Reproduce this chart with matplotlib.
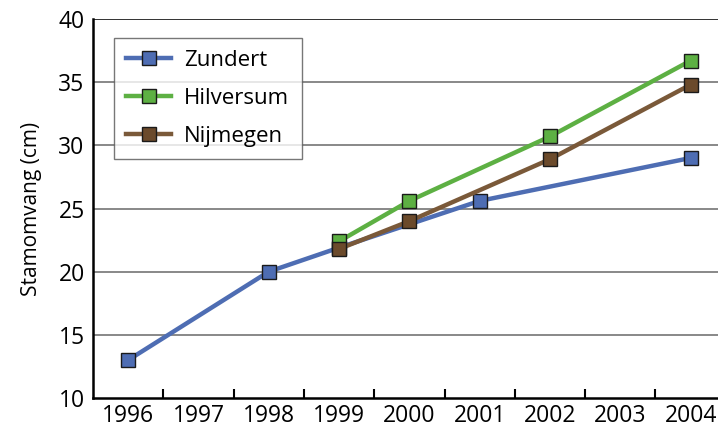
import matplotlib
matplotlib.use('Agg')
import matplotlib.pyplot as plt
import numpy as np

plt.rcParams['font.family'] = ['Open Sans', 'DejaVu Sans']

years = ['1996', '1997', '1998', '1999', '2000', '2001', '2002', '2003', '2004']

# stem girth (cm) per location; None where no measurement
zundert = [13.0, None, 20.0, 21.9, None, 25.6, None, None, 29.0]
hilversum = [None, None, None, 22.4, 25.6, None, 30.7, None, 36.7]
nijmegen = [None, None, None, 21.8, 24.0, None, 28.9, None, 34.8]

series = [
    ('Zundert', zundert, '#4E6DB3', '#4E6DB3'),
    ('Hilversum', hilversum, '#5DB043', '#5DB043'),
    ('Nijmegen', nijmegen, '#7A5939', '#6B4A2B'),
]

fig = plt.figure(figsize=(7.18, 4.30), dpi=100)
ax = fig.add_axes([93/718, 32/430, 625/718, 379/430])

for name, vals, col, mcol in series:
    xs = [i for i, v in enumerate(vals) if v is not None]
    ys = [v for v in vals if v is not None]
    ax.plot(xs, ys, color=col, lw=3.2, marker='s', markersize=9.5,
            markerfacecolor=mcol, markeredgecolor='#1a1a1a', markeredgewidth=1.0,
            label=name, zorder=3)

ax.set_xlim(-0.5, 8.39)
ax.set_ylim(10, 40)
ax.set_yticks([10, 15, 20, 25, 30, 35, 40])
ax.set_xticks(range(len(years)))
ax.set_xticklabels(years)
ax.set_xticks(np.arange(0.5, 8, 1), minor=True)
ax.tick_params(axis='x', which='major', length=0, labelsize=16.5, pad=4.5)
ax.tick_params(axis='x', which='minor', direction='in', length=6.5, width=1.5, color='black')
ax.tick_params(axis='y', direction='in', length=0, labelsize=16.5, pad=6)

for v in [15, 20, 25, 30, 35]:
    ax.axhline(v, color='#7f7f7f', lw=1.3, zorder=1)
ax.axhline(40, color='#222222', lw=1.3, zorder=1)

for s in ['top', 'right']:
    ax.spines[s].set_visible(False)
ax.spines['left'].set_linewidth(1.8)
ax.spines['bottom'].set_linewidth(1.8)

ax.set_ylabel('Stamomvang (cm)', fontsize=15, labelpad=12)

leg = ax.legend(loc='upper left', bbox_to_anchor=(0.034, 0.95), fontsize=16,
                fancybox=False, frameon=True, edgecolor='#555555',
                handlelength=2.0, labelspacing=0.75, borderpad=0.55,
                handletextpad=0.6, borderaxespad=0)
leg.get_frame().set_linewidth(1.0)

plt.savefig('out.png', dpi=100)
